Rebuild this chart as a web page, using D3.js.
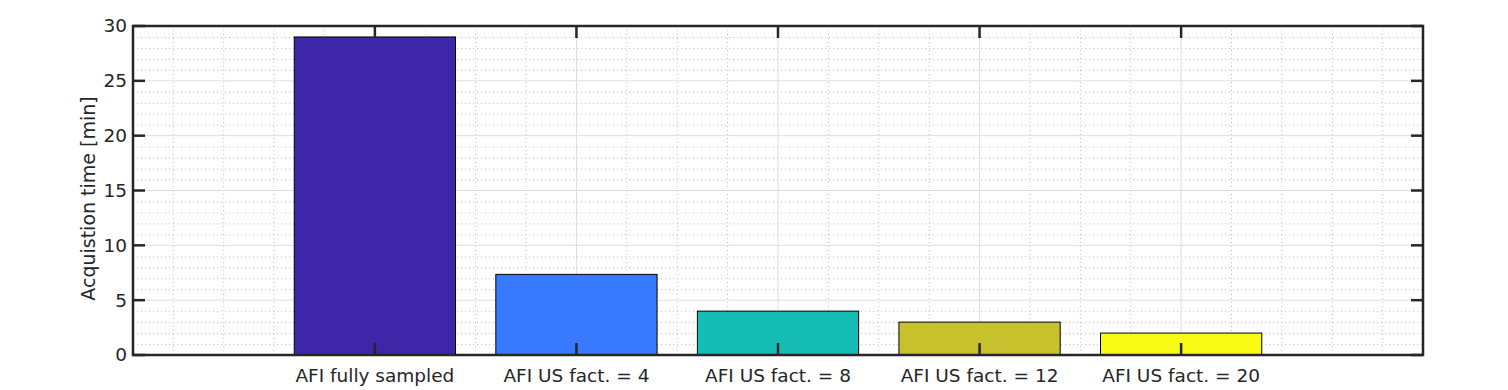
<!DOCTYPE html>
<html lang="en">
<head>
<meta charset="utf-8">
<title>Acquisition time</title>
<script src="https://d3js.org/d3.v7.min.js"></script>
<style>
  body { margin: 0; background: #fff; }
  text { font-family: "DejaVu Sans", sans-serif; fill: #262626; }
</style>
</head>
<body>
<script>
// data
var categories = ["AFI fully sampled", "AFI US fact. = 4", "AFI US fact. = 8", "AFI US fact. = 12", "AFI US fact. = 20"];
var times = [29, 7.35, 4, 3, 2];
var barColors = ["#3e26a8", "#377afd", "#15bdb4", "#c8c02c", "#f9fb14"];
var yTicks = [0, 5, 10, 15, 20, 25, 30];

var width = 1508, height = 390;
// plot box (note: "top" is reserved on window, so use other names)
var axLeft = 133, axRight = 1423, axTop = 26, axBottom = 355;

var svg = d3.select("body").append("svg")
  .attr("width", width)
  .attr("height", height);

// bars sit at 1..n, axis runs from -0.2 to n+1.2
var x = d3.scaleLinear().domain([-0.2, categories.length + 1.2]).range([axLeft, axRight]);
var y = d3.scaleLinear().domain([0, 30]).range([axBottom, axTop]);
var barW = (x(2) - x(1)) * 0.8;

// minor grid
var minorX = d3.range(0, 6.25 * 4 + 1).map(function(i) { return i * 0.25; })
  .filter(function(v) { return v > -0.2 && v < categories.length + 1.2 && !(Number.isInteger(v) && v >= 1 && v <= categories.length); });
var minorY = d3.range(1, 30).filter(function(v) { return v % 5 !== 0; });

svg.append("g").selectAll("line").data(minorX).enter().append("line")
  .attr("x1", function(d) { return x(d); }).attr("x2", function(d) { return x(d); })
  .attr("y1", axTop).attr("y2", axBottom)
  .attr("stroke", "#bdbdbd").attr("stroke-width", 1).attr("stroke-dasharray", "1,3");
svg.append("g").selectAll("line").data(minorY).enter().append("line")
  .attr("x1", axLeft).attr("x2", axRight)
  .attr("y1", function(d) { return y(d) + 0.5; }).attr("y2", function(d) { return y(d) + 0.5; })
  .attr("stroke", "#bdbdbd").attr("stroke-width", 1).attr("stroke-dasharray", "1,3");

// major grid
svg.append("g").selectAll("line").data(d3.range(1, categories.length + 1)).enter().append("line")
  .attr("x1", function(d) { return x(d); }).attr("x2", function(d) { return x(d); })
  .attr("y1", axTop).attr("y2", axBottom)
  .attr("stroke", "#dedede").attr("stroke-width", 1);
svg.append("g").selectAll("line").data(yTicks).enter().append("line")
  .attr("x1", axLeft).attr("x2", axRight)
  .attr("y1", function(d) { return y(d); }).attr("y2", function(d) { return y(d); })
  .attr("stroke", "#dedede").attr("stroke-width", 1);

// bars
svg.append("g").selectAll("rect").data(times).enter().append("rect")
  .attr("x", function(d, i) { return x(i + 1) - barW / 2; })
  .attr("y", function(d) { return y(d); })
  .attr("width", barW)
  .attr("height", function(d) { return y(0) - y(d); })
  .attr("fill", function(d, i) { return barColors[i]; })
  .attr("stroke", "#000").attr("stroke-width", 1);

// ticks (inward, on all four sides)
var tickLen = 12, tickCol = "#262626";
var cats = d3.range(1, categories.length + 1);
svg.append("g").selectAll("line").data(cats).enter().append("line")
  .attr("x1", function(d) { return x(d); }).attr("x2", function(d) { return x(d); })
  .attr("y1", axBottom).attr("y2", axBottom - tickLen)
  .attr("stroke", tickCol).attr("stroke-width", 2.5);
svg.append("g").selectAll("line").data(cats).enter().append("line")
  .attr("x1", function(d) { return x(d); }).attr("x2", function(d) { return x(d); })
  .attr("y1", axTop).attr("y2", axTop + tickLen)
  .attr("stroke", tickCol).attr("stroke-width", 2.5);
svg.append("g").selectAll("line").data(yTicks).enter().append("line")
  .attr("x1", axLeft).attr("x2", axLeft + tickLen)
  .attr("y1", function(d) { return y(d); }).attr("y2", function(d) { return y(d); })
  .attr("stroke", tickCol).attr("stroke-width", 2.5);
svg.append("g").selectAll("line").data(yTicks).enter().append("line")
  .attr("x1", axRight).attr("x2", axRight - tickLen)
  .attr("y1", function(d) { return y(d); }).attr("y2", function(d) { return y(d); })
  .attr("stroke", tickCol).attr("stroke-width", 2.5);

// frame
svg.append("rect")
  .attr("x", axLeft).attr("y", axTop)
  .attr("width", axRight - axLeft).attr("height", axBottom - axTop)
  .attr("fill", "none").attr("stroke", tickCol).attr("stroke-width", 2.5);

// tick labels
svg.append("g").selectAll("text").data(yTicks).enter().append("text")
  .attr("x", axLeft - 6)
  .attr("y", function(d) { return y(d); })
  .attr("dy", "0.35em")
  .attr("text-anchor", "end")
  .style("font-size", "18.5px")
  .text(function(d) { return d; });

svg.append("g").selectAll("text").data(categories).enter().append("text")
  .attr("x", function(d, i) { return x(i + 1); })
  .attr("y", 382)
  .attr("text-anchor", "middle")
  .style("font-size", "18.5px")
  .text(function(d) { return d; });

// y label
svg.append("text")
  .attr("transform", "translate(95," + ((axTop + axBottom) / 2 + 8) + ") rotate(-90)")
  .attr("text-anchor", "middle")
  .style("font-size", "19px")
  .text("Acquistion time [min]");
</script>
</body>
</html>
